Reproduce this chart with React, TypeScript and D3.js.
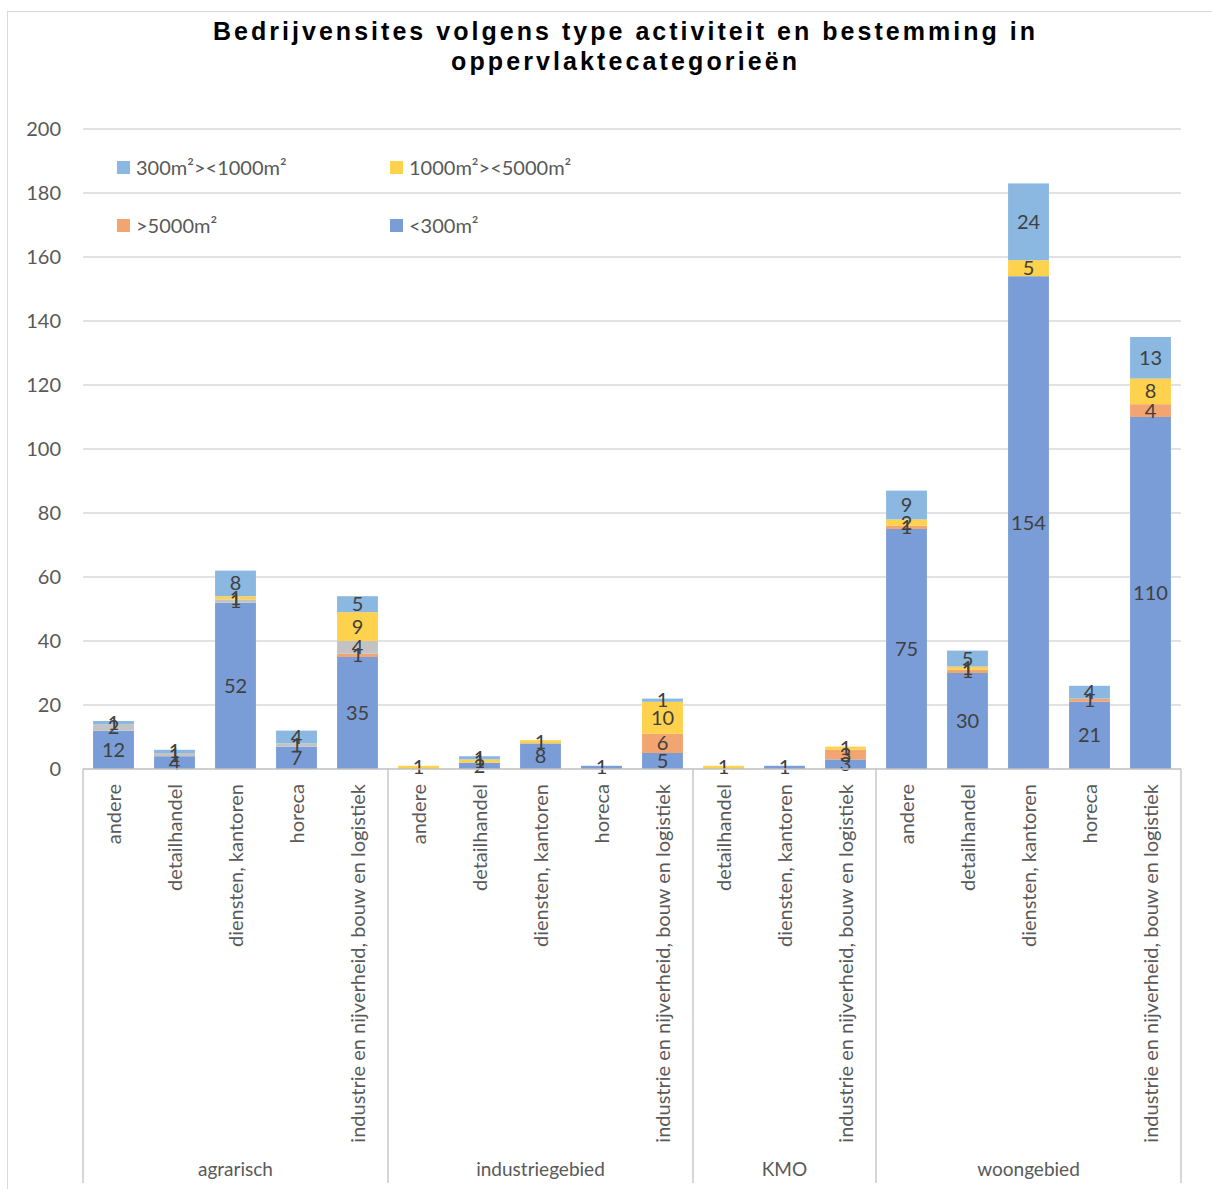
import React from "react";
import * as d3 from "d3";

// Bedrijvensites per bestemming (groep) en type activiteit, opgesplitst per oppervlakteklasse
const groups = ["agrarisch", "industriegebied", "KMO", "woongebied"];
const groupActivities = [
  ["andere", "detailhandel", "diensten, kantoren", "horeca", "industrie en nijverheid, bouw en logistiek"],
  ["andere", "detailhandel", "diensten, kantoren", "horeca", "industrie en nijverheid, bouw en logistiek"],
  ["detailhandel", "diensten, kantoren", "industrie en nijverheid, bouw en logistiek"],
  ["andere", "detailhandel", "diensten, kantoren", "horeca", "industrie en nijverheid, bouw en logistiek"],
];

// Series values, in bar order (18 bars)
const lt300 = [12, 4, 52, 7, 35, 0, 2, 8, 1, 5, 0, 1, 3, 75, 30, 154, 21, 110];
const gt5000 = [0, 0, 0, 0, 1, 0, 0, 0, 0, 6, 0, 0, 3, 1, 1, 0, 1, 4];
const unnamed = [2, 1, 1, 1, 4, 0, 0, 0, 0, 0, 0, 0, 0, 0, 0, 0, 0, 0];
const s1000to5000 = [0, 0, 1, 0, 9, 1, 1, 1, 0, 10, 1, 0, 1, 2, 1, 5, 0, 8];
const s300to1000 = [1, 1, 8, 4, 5, 0, 1, 0, 0, 1, 0, 0, 0, 9, 5, 24, 4, 13];

const seriesNames = ["<300m²", ">5000m²", "", "1000m²><5000m²", "300m²><1000m²"];
const seriesValues = [lt300, gt5000, unnamed, s1000to5000, s300to1000];
const seriesColors = ["#7B9DD7", "#F3A571", "#C3C3C3", "#FED24C", "#8BB8E1"];

const yTicks = [0, 20, 40, 60, 80, 100, 120, 140, 160, 180, 200];

const title1 = "Bedrijvensites volgens type activiteit en bestemming in";
const title2 = "oppervlaktecategorieën";

const W = 1212;
const H = 1189;
const plotLeft = 83;
const plotRight = 1181;
const plotTop = 129;
const plotBottom = 769;
const font = "Lato, 'Open Sans', sans-serif";
const textColor = "#595959";
const labelColor = "#404040";

export default function App() {
  const bars: { key: string; group: number; activity: string }[] = [];
  groups.forEach((g, gi) =>
    groupActivities[gi].forEach((a, ai) => bars.push({ key: `${gi}-${ai}`, group: gi, activity: a }))
  );

  const x = d3
    .scaleBand<string>()
    .domain(bars.map((b) => b.key))
    .range([plotLeft, plotRight])
    .paddingInner(0.33)
    .paddingOuter(0.165);
  const y = d3.scaleLinear().domain([0, 200]).range([plotBottom, plotTop]);

  const rows = bars.map((b, i) => {
    const r: any = { key: b.key };
    seriesValues.forEach((vals, si) => (r[`s${si}`] = vals[i]));
    return r;
  });
  const stack = d3.stack<any>().keys(seriesValues.map((_, si) => `s${si}`));
  const stacked = stack(rows);

  // group boundaries
  const groupEdges: number[] = [plotLeft];
  const groupCenters: number[] = [];
  let idx = 0;
  groups.forEach((_, gi) => {
    const n = groupActivities[gi].length;
    const first = bars[idx].key;
    const last = bars[idx + n - 1].key;
    const step = x.step();
    const start = (x(first) as number) - (step - x.bandwidth()) / 2;
    const end = (x(last) as number) + x.bandwidth() + (step - x.bandwidth()) / 2;
    groupCenters.push((start + end) / 2);
    groupEdges.push(end);
    idx += n;
  });

  const legend = [
    { si: 4, x: 117, y: 168 },
    { si: 3, x: 390, y: 168 },
    { si: 1, x: 117, y: 226 },
    { si: 0, x: 390, y: 226 },
  ];

  return (
    <div style={{ position: "absolute", left: 0, top: 0 }}>
      <svg width={W} height={H} style={{ display: "block", background: "#fff" }}>
        {/* chart border */}
        <rect x={7.5} y={11.5} width={W + 10} height={H + 10} fill="none" stroke="#D9D9D9" />

        <text
          x={624}
          y={40}
          textAnchor="middle"
          fontFamily="'Liberation Sans', Arial, sans-serif"
          fontWeight="bold"
          fontSize={25}
          textLength={822}
          lengthAdjust="spacing"
          fill="#000"
        >
          {title1}
        </text>
        <text
          x={624}
          y={70}
          textAnchor="middle"
          fontFamily="'Liberation Sans', Arial, sans-serif"
          fontWeight="bold"
          fontSize={25}
          textLength={346}
          lengthAdjust="spacing"
          fill="#000"
        >
          {title2}
        </text>

        {/* gridlines */}
        {yTicks.slice(1).map((t) => (
          <line key={t} x1={plotLeft} x2={plotRight} y1={y(t)} y2={y(t)} stroke="#D9D9D9" strokeWidth={1.3} />
        ))}
        {yTicks.map((t) => (
          <text
            key={t}
            x={61}
            y={y(t)}
            dy="0.35em"
            textAnchor="end"
            fontFamily={font}
            fontSize={20}
            fill={textColor}
          >
            {t}
          </text>
        ))}

        {/* legend */}
        {legend.map((l) => (
          <g key={l.si}>
            <rect x={l.x} y={l.y - 7} width={13} height={13} fill={seriesColors[l.si]} />
            <text x={l.x + 19} y={l.y} dy="0.35em" fontFamily={font} fontSize={20} fill={textColor}>
              {seriesNames[l.si]}
            </text>
          </g>
        ))}

        {/* bars */}
        {stacked.map((layer, si) => (
          <g key={layer.key} fill={seriesColors[si]}>
            {layer.map((d, i) =>
              d[1] - d[0] > 0 ? (
                <rect
                  key={i}
                  x={x(bars[i].key)}
                  y={y(d[1])}
                  width={x.bandwidth()}
                  height={y(d[0]) - y(d[1])}
                />
              ) : null
            )}
          </g>
        ))}

        {/* data labels */}
        {stacked.map((layer, si) => (
          <g key={`l${layer.key}`}>
            {layer.map((d, i) =>
              d[1] - d[0] > 0 ? (
                <text
                  key={i}
                  x={(x(bars[i].key) as number) + x.bandwidth() / 2}
                  y={y((d[0] + d[1]) / 2)}
                  dy="0.35em"
                  textAnchor="middle"
                  fontFamily={font}
                  fontSize={20}
                  fill={labelColor}
                >
                  {d[1] - d[0]}
                </text>
              ) : null
            )}
          </g>
        ))}

        {/* category axis */}
        <line x1={plotLeft} x2={plotRight} y1={plotBottom} y2={plotBottom} stroke="#BFBFBF" strokeWidth={1.3} />
        {groupEdges.map((gx, i) => (
          <line key={i} x1={gx} x2={gx} y1={plotBottom} y2={1183} stroke="#BFBFBF" strokeWidth={1.3} />
        ))}
        {bars.map((b) => {
          const cx = (x(b.key) as number) + x.bandwidth() / 2;
          return (
            <text
              key={b.key}
              transform={`translate(${cx},784) rotate(-90)`}
              dy="0.35em"
              textAnchor="end"
              fontFamily={font}
              fontSize={20}
              fill={textColor}
            >
              {b.activity}
            </text>
          );
        })}
        {groups.map((g, gi) => (
          <text
            key={g}
            x={groupCenters[gi]}
            y={1169}
            dy="0.35em"
            textAnchor="middle"
            fontFamily={font}
            fontSize={19}
            fill={textColor}
          >
            {g}
          </text>
        ))}
      </svg>
    </div>
  );
}
